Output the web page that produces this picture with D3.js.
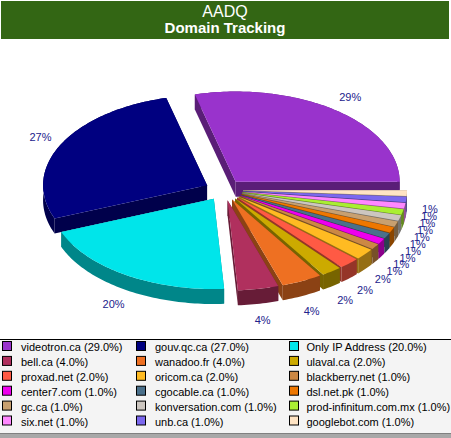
<!DOCTYPE html>
<html>
<head>
<meta charset="utf-8">
<script src="https://cdn.jsdelivr.net/npm/d3@7"></script>
<style>
  body { margin: 0; background: #fff; }
  svg { display: block; font-family: "Liberation Sans", Arial, sans-serif; }
</style>
</head>
<body>
<div id="chart"></div>
<script>
// data
var domains = ["videotron.ca", "gouv.qc.ca", "Only IP Address", "bell.ca", "wanadoo.fr", "ulaval.ca",
  "proxad.net", "oricom.ca", "blackberry.net", "center7.com", "cgocable.ca", "dsl.net.pk",
  "gc.ca", "konversation.com", "prod-infinitum.com.mx", "six.net", "unb.ca", "googlebot.com"]
var shares = [29, 27, 20, 4, 4, 2, 2, 2, 1, 1, 1, 1, 1, 1, 1, 1, 1, 1]
var colours = ["#9933cc", "#000080", "#00e5ea", "#b0305e", "#ee7022", "#ccaa00",
  "#ff5a44", "#ffbb22", "#cc8844", "#ee00ee", "#4a708b", "#ee7700",
  "#c8a070", "#ccc6c0", "#aaee33", "#ff88ff", "#7b68ee", "#ffe4c4"]
var title = ["AADQ", "Domain Tracking"]

var W = 451, H = 438
var svg = d3.select("#chart").append("svg").attr("width", W).attr("height", H)

// title bar
svg.append("rect").attr("x", 1).attr("y", 1).attr("width", 448).attr("height", 38).attr("fill", "#336614")
svg.append("text").attr("x", 225).attr("y", 17).attr("text-anchor", "middle")
  .style("font-size", "16px").style("fill", "#fff").text(title[0])
svg.append("text").attr("x", 225).attr("y", 33).attr("text-anchor", "middle")
  .style("font-size", "15px").style("font-weight", "bold").style("fill", "#fff").text(title[1])

// 3d pie
var cx = 224, cy = 190, rx = 164, k = 0.55, depth = 15, explode = 19
var colour = d3.scaleOrdinal().domain(domains).range(colours)
var pie = d3.pie().sort(null).value(function(d){ return d.v })
var slices = pie(domains.map(function(n, i){ return {name: n, v: shares[i]} }))
var total = d3.sum(shares)

// angles from d3.pie taken counter-clockwise from 3 o'clock
function pt(o, a, r, z){
  return [o[0] + r * Math.cos(a), o[1] - r * k * Math.sin(a) + z]
}
function rim(o, a0, a1, z){
  var n = Math.max(2, Math.ceil((a1 - a0) / 0.02)), pts = []
  for(var i = 0; i <= n; i++) pts.push(pt(o, a0 + (a1 - a0) * i / n, rx, z))
  return pts
}
var line = d3.line()

slices.forEach(function(s){
  s.mid = (s.startAngle + s.endAngle) / 2
  s.o = [cx + explode * Math.cos(s.mid), cy - explode * k * Math.sin(s.mid)]
})

var order = slices.slice().sort(function(a, b){ return Math.sin(b.mid) - Math.sin(a.mid) })
var g = svg.append("g")
order.forEach(function(s){
  var c = colour(s.data.name), dark = d3.color(c).darker(1.5)
  var o = s.o, a0 = s.startAngle, a1 = s.endAngle
  var top = rim(o, a0, a1, 0), bot = rim(o, a0, a1, depth).reverse()
  var ot = [o[0], o[1]], ob = [o[0], o[1] + depth]
  // side walls
  g.append("path").attr("d", line(top.concat(bot)) + "Z").attr("fill", dark)
  ;[a0, a1].forEach(function(a){
    g.append("path").attr("d", line([ot, pt(o, a, rx, 0), pt(o, a, rx, depth), ob]) + "Z").attr("fill", dark)
  })
  // top
  g.append("path").attr("d", line([ot].concat(top)) + "Z").attr("fill", c)
})

// percent labels
svg.append("g").selectAll("text").data(slices).join("text")
  .attr("x", function(d){ return cx + 206 * Math.cos(d.mid) })
  .attr("y", function(d){ return cy - 117 * Math.sin(d.mid) + (Math.sin(d.mid) < 0 ? depth : 0) })
  .attr("dy", "0.35em").attr("text-anchor", "middle")
  .style("font-size", "11px").style("fill", "#22228c")
  .text(function(d){ return Math.round(d.data.v / total * 100) + "%" })

// legend
svg.append("rect").attr("x", 0).attr("y", 339.5).attr("width", W).attr("height", 94).attr("fill", "#f4f4f4")
svg.append("line").attr("x1", 0).attr("x2", W).attr("y1", 339.5).attr("y2", 339.5).attr("stroke", "#000")
svg.append("rect").attr("x", 0).attr("y", 433).attr("width", W).attr("height", 5).attr("fill", "#a8a8a8")
svg.append("line").attr("x1", 0).attr("x2", W).attr("y1", 433.5).attr("y2", 433.5).attr("stroke", "#808080")

var colX = [2.5, 136.5, 289.5]
var leg = svg.append("g").selectAll("g").data(slices).join("g")
  .attr("transform", function(d, i){ return "translate(" + colX[i % 3] + "," + (341.5 + Math.floor(i / 3) * 14.9) + ")" })
leg.append("rect").attr("width", 9).attr("height", 9)
  .attr("fill", function(d){ return colour(d.data.name) }).attr("stroke", "#000")
leg.append("text").attr("x", function(d, i){ return i % 3 == 2 ? 17 : 18.5 }).attr("y", 9.5)
  .style("font-size", "11px").style("fill", "#000")
  .text(function(d){ return d.data.name + " (" + (d.data.v / total * 100).toFixed(1) + "%)" })
</script>
</body>
</html>
